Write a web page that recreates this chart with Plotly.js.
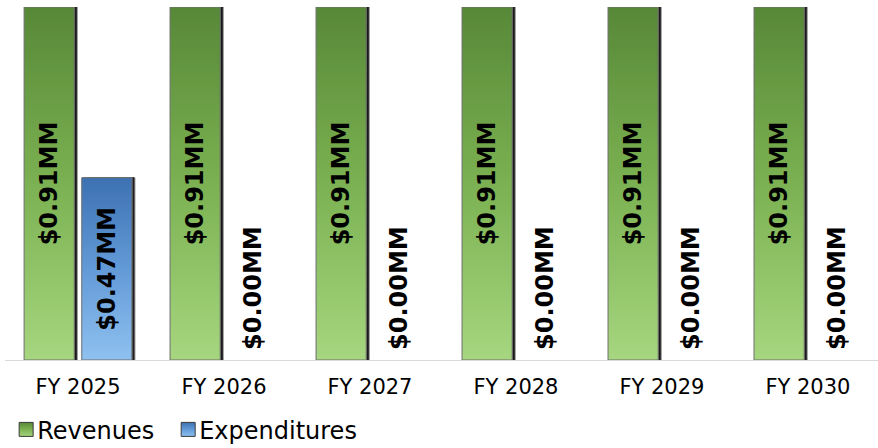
<!DOCTYPE html>
<html>
<head>
<meta charset="utf-8">
<script src="https://cdn.plot.ly/plotly-3.0.1.min.js"></script>
<style>
  html, body { margin: 0; padding: 0; background: #fff; }
  #chart { width: 878px; height: 448px; }
</style>
</head>
<body>
<svg width="0" height="0" style="position:absolute">
  <defs>
    <linearGradient id="gradRev" x1="0" y1="0" x2="0" y2="1">
      <stop offset="0" stop-color="#578837"/>
      <stop offset="0.5" stop-color="#7bb152"/>
      <stop offset="1" stop-color="#a6d67f"/>
    </linearGradient>
    <linearGradient id="gradExp" x1="0" y1="0" x2="0" y2="1">
      <stop offset="0" stop-color="#3d71b2"/>
      <stop offset="0.5" stop-color="#629ad7"/>
      <stop offset="1" stop-color="#8fc1f0"/>
    </linearGradient>
    <filter id="barShadow" x="-10%" y="-5%" width="130%" height="110%">
      <feDropShadow dx="2.5" dy="0" stdDeviation="0.7" flood-color="#000" flood-opacity="0.9"/>
    </filter>
  </defs>
</svg>
<div id="chart"></div>
<script>
const categories = ["FY 2025", "FY 2026", "FY 2027", "FY 2028", "FY 2029", "FY 2030"];
const revenues = [0.91, 0.91, 0.91, 0.91, 0.91, 0.91];
const expenditures = [0.47, 0.00, 0.00, 0.00, 0.00, 0.00];
const seriesNames = ["Revenues", "Expenditures"];

const fmt = v => "$" + v.toFixed(2) + "MM";
const pos = arr => arr.map(v => v > 0 ? "inside" : "outside");
const lineW = arr => arr.map(v => v > 0 ? 1 : 0);

const labelFont = { family: "DejaVu Sans, Verdana, sans-serif", size: 24, color: "#000", weight: "bold" };

function barTrace(name, values, color) {
  return {
    type: "bar", name: name, x: categories, y: values,
    text: values.map(fmt), textposition: pos(values), textangle: -90,
    insidetextanchor: "middle", constraintext: "none",
    textfont: labelFont, insidetextfont: labelFont, outsidetextfont: labelFont,
    marker: { color: color, line: { color: "#6e6e6e", width: lineW(values) } },
    hoverinfo: "none", cliponaxis: false
  };
}

const traces = [
  barTrace(seriesNames[0], revenues, "#7bb152"),
  barTrace(seriesNames[1], expenditures, "#629ad7")
];
const allValues = [revenues, expenditures];

const layout = {
  width: 878, height: 448,
  margin: { l: 5, r: 0, t: 7, b: 88, autoexpand: false },
  paper_bgcolor: "#fff", plot_bgcolor: "#fff",
  barmode: "group", bargap: 0.21, bargroupgap: 0.13,
  showlegend: true,
  legend: {
    orientation: "h", x: -0.009, xanchor: "left", y: -0.134, yanchor: "top",
    font: { family: "DejaVu Sans, Verdana, sans-serif", size: 24, color: "#000" },
    itemwidth: 30, tracegroupgap: 0
  },
  xaxis: {
    type: "category", range: [-0.5, 5.48], showgrid: false, zeroline: false,
    showline: true, linecolor: "#d9d9d9", linewidth: 1,
    ticks: "", ticklabelstandoff: 8, automargin: false,
    tickfont: { family: "DejaVu Sans, Verdana, sans-serif", size: 21, color: "#000" }
  },
  yaxis: {
    range: [0, 0.91], showgrid: false, zeroline: false, showline: false,
    showticklabels: false, ticks: "", automargin: false
  }
};

Plotly.newPlot("chart", traces, layout, { staticPlot: true, displayModeBar: false }).then(gd => {
  const grads = ["url(#gradRev)", "url(#gradExp)"];
  gd.querySelectorAll(".barlayer .trace.bars").forEach((tr, i) => {
    tr.querySelectorAll(".point").forEach((pt, j) => {
      const p = pt.querySelector("path");
      if (p) {
        p.style.fill = grads[i];
        p.setAttribute("filter", "url(#barShadow)");
      }
      if (allValues[i][j] === 0) {
        const t = pt.querySelector("text");
        if (t) t.setAttribute("transform", "translate(0,-7) " + (t.getAttribute("transform") || ""));
      }
    });
  });
  gd.querySelectorAll(".legend .traces").forEach((tr, i) => {
    tr.querySelectorAll(".legendpoints path").forEach(p => {
      p.setAttribute("d", "M2,-7h14v14h-14z");
      p.style.fill = grads[i];
      p.style.stroke = "#3a3a3a";
      p.style.strokeWidth = "1px";
    });
  });
});
</script>
</body>
</html>
